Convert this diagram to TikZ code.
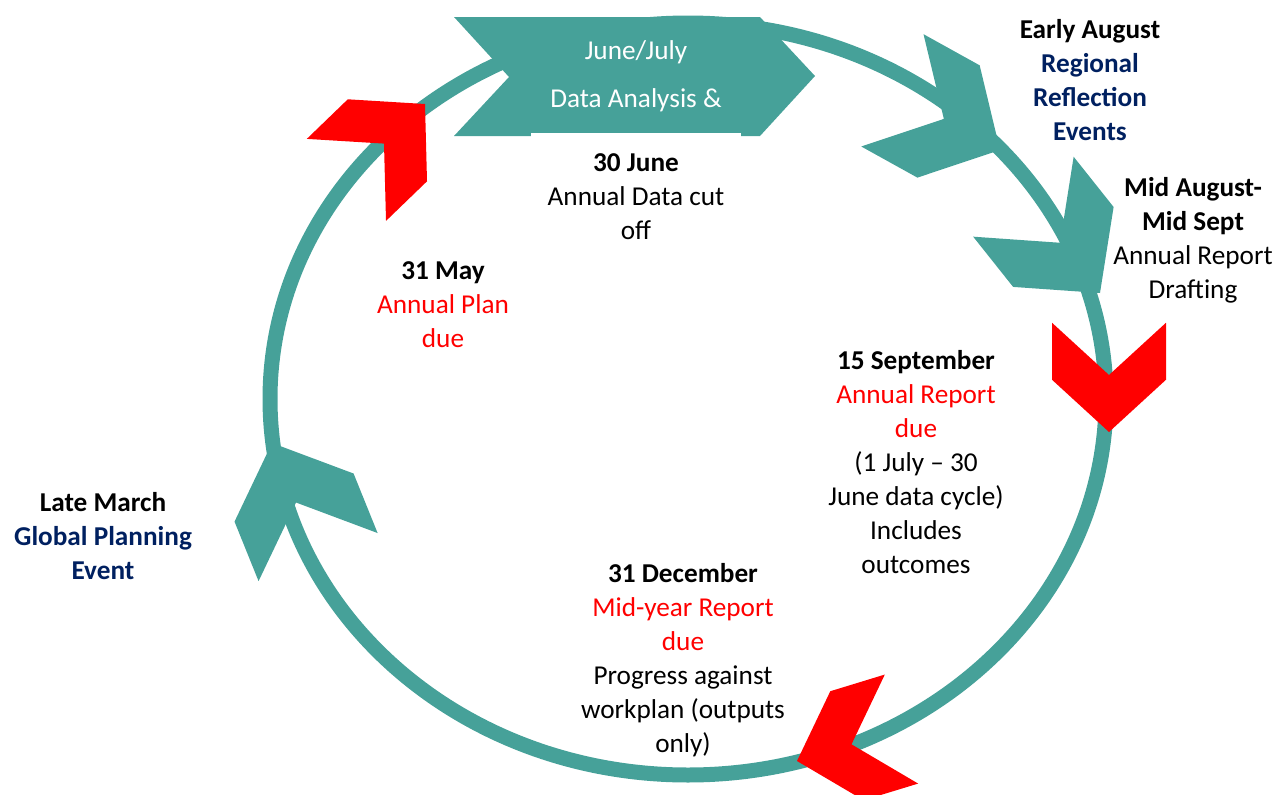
\documentclass[tikz,border=0pt]{standalone}
\usepackage{fontspec}
\setmainfont{Carlito}
\usepackage{tikz}
\definecolor{ringteal}{RGB}{70,161,153}
\definecolor{navy}{RGB}{0,32,96}
\newcommand{\redtxt}[1]{\textcolor{red}{#1}}
\newcommand{\navytxt}[1]{\textcolor{navy}{\textbf{#1}}}
\tikzset{
         ring/.style={draw=ringteal, line width=0.3cm},
         chev/.pic={\path[pic actions] (0,0) -- (-55,60) -- (-115,60) -- (-60,0) -- (-115,-60) -- (-55,-60) -- cycle;},
         redchev/.style={fill=red, scale=0.95},
         tealchev/.style={fill=ringteal, scale=1.07},
         stage/.style={align=center, inner sep=0pt, font=\fontsize{15.5}{19.4}\selectfont},
}

\begin{document}
\begin{tikzpicture}[x=0.02cm, y=-0.02cm]
    \useasboundingbox (0,0) rectangle (1279,795);

    % Ring
    \draw[ring] (688,399) ellipse [x radius=418, y radius=376];

    % Banner
    \fill[ringteal] (454,17) -- (760,17) -- (815,76) -- (760,136) -- (454,136) -- (509,77) -- cycle;
    \node[stage, text=white, font=\fontsize{15.5}{27.2}\selectfont] (banner) at (636,76) {June/July\\Data Analysis \&};

    % Pfeile
    \pic[redchev, rotate=44] at (425,104) {chev};
    \pic[tealchev, rotate=-29] at (1000,150) {chev};
    \pic[tealchev, rotate=-51.5] at (1100,293) {chev};
    \pic[redchev, rotate=-90] at (1109,432) {chev};
    \pic[redchev, rotate=-163] at (797,761) {chev};
    \pic[tealchev, rotate=112] at (272,443) {chev};

    % Termine
    \node[stage, fill=white, minimum width=4.22cm, inner ysep=12pt] (cutoff) at (636,197) {\textbf{30 June}\\Annual Data cut\\off};
    \node[stage] (may) at (443,305) {\textbf{31 May}\\\redtxt{Annual Plan}\\\redtxt{due}};
    \node[stage] (early) at (1090,80) {\textbf{Early August}\\\navytxt{Regional}\\\navytxt{Reflection}\\\navytxt{Events}};
    \node[stage] (drafting) at (1193,240) {\textbf{Mid August-}\\\textbf{Mid Sept}\\Annual Report\\Drafting};
    \node[stage] (sept) at (916,462) {\textbf{15 September}\\\redtxt{Annual Report}\\\redtxt{due}\\(1 July -- 30\\June data cycle)\\Includes\\outcomes};
    \node[stage] (march) at (103,536) {\textbf{Late March}\\\navytxt{Global Planning}\\\navytxt{Event}};
    \node[stage] (dec) at (683,660) {\textbf{31 December}\\\redtxt{Mid-year Report}\\\redtxt{due}\\Progress against\\workplan (outputs\\only)};

\end{tikzpicture}
\end{document}
